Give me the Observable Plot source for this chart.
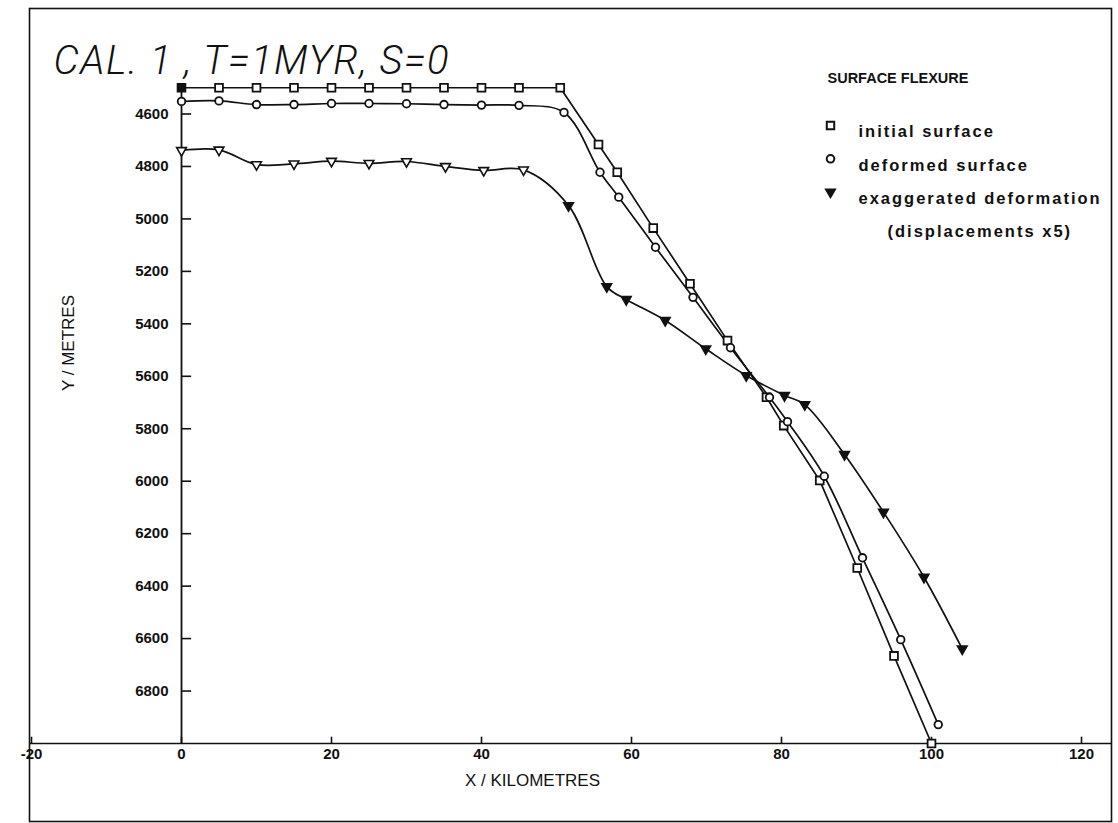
<!DOCTYPE html>
<html><head><meta charset="utf-8">
<script src="https://cdn.jsdelivr.net/npm/d3@7"></script>
<script src="https://cdn.jsdelivr.net/npm/@observablehq/plot@0.6"></script>
<style>body{margin:0;background:#fff}svg{display:block}</style>
</head><body><div id="chart"></div>
<script>
// ---- texts ----
const titleText = "CAL. 1 , T=1MYR, S=0";
const xLabel = "X / KILOMETRES";
const yLabel = "Y / METRES";
const legendTitle = "SURFACE FLEXURE";
const seriesNames = ["initial surface", "deformed surface", "exaggerated deformation"];
const legendNote = "(displacements x5)";

// ---- ticks ----
const xTicks = [-20, 0, 20, 40, 60, 80, 100, 120];
const yTicks = [4600, 4800, 5000, 5200, 5400, 5600, 5800, 6000, 6200, 6400, 6600, 6800];

// ---- series (km, metres) ----
const initialX = [0, 5, 10, 15, 20, 25, 30, 35, 40, 45, 50.5, 55.6, 58.1, 62.9, 67.8, 72.8, 78.0, 80.3, 85.1, 90.1, 95.0, 100];
const initialY = [4500, 4500, 4500, 4500, 4500, 4500, 4500, 4500, 4500, 4500, 4500, 4716, 4822, 5035, 5247, 5464, 5680, 5788, 5997, 6331, 6666, 7000];

const deformedX = [0, 5, 10, 15, 20, 25, 30, 35, 40, 45, 51.0, 55.8, 58.3, 63.2, 68.2, 73.2, 78.4, 80.8, 85.7, 90.8, 95.9, 100.9];
const deformedY = [4552, 4550, 4564, 4564, 4560, 4560, 4561, 4564, 4566, 4567, 4594, 4822, 4917, 5108, 5299, 5491, 5680, 5773, 5981, 6292, 6604, 6928];

const exaggeratedX = [0, 5, 10, 15, 20, 25, 30, 35.2, 40.3, 45.6, 51.6, 56.7, 59.3, 64.5, 69.9, 75.3, 80.4, 83.1, 88.4, 93.6, 99.0, 104.1];
const exaggeratedY = [4739, 4737, 4793, 4790, 4780, 4788, 4781, 4800, 4815, 4813, 4949, 5258, 5307, 5387, 5495, 5597, 5673, 5708, 5898, 6118, 6366, 6639];

const toRows = (xs, ys) => xs.map((x, i) => ({x, y: ys[i], i}));
const initial = toRows(initialX, initialY);
const deformed = toRows(deformedX, deformedY);
const exaggerated = toRows(exaggeratedX, exaggeratedY);

const INK = "#111";
const numFont = "'Liberation Sans', Arial, sans-serif";
const xDomain = [xTicks[0], xTicks[xTicks.length - 1]];
const yDomain = [4600, 7000];

const chart = Plot.plot({
  width: 1118,
  height: 823,
  marginLeft: 29, marginRight: 7, marginTop: 8, marginBottom: 2,
  x: {domain: xDomain, range: [31, 1081], axis: null},
  y: {domain: yDomain, range: [113.5, 743], axis: null},
  style: {background: "#fff"},
  marks: [
    Plot.frame({stroke: INK, strokeWidth: 1.6}),
    // axes
    Plot.ruleY([yDomain[1]], {stroke: INK, strokeWidth: 1.6}),
    Plot.ruleX([0], {y1: 4500, y2: yDomain[1], stroke: INK, strokeWidth: 1.8}),
    Plot.ruleY(yTicks, {x1: 0, x2: 1.35, stroke: INK, strokeWidth: 1.6}),
    Plot.ruleX(xTicks, {y1: yDomain[1], y2: yDomain[1] - 24, stroke: INK, strokeWidth: 1.6}),
    Plot.text(yTicks, {x: 0, y: d => d, dx: -13, text: d => String(d), textAnchor: "end",
      fontSize: 15, fontWeight: "bold", fontFamily: numFont, fill: INK}),
    Plot.text(xTicks, {x: d => d, y: yDomain[1], dy: 11, text: d => String(d),
      fontSize: 15, fontWeight: "bold", fontFamily: numFont, fill: INK}),
    Plot.text([xLabel], {frameAnchor: "bottom", dx: -38, dy: -36, fontSize: 17,
      fontFamily: numFont, fill: INK}),
    Plot.text([yLabel], {frameAnchor: "left", dx: 39, dy: -24, rotate: -90, fontSize: 17,
      fontFamily: numFont, fill: INK}),
    Plot.text([titleText], {frameAnchor: "top-left", dx: 24, dy: 37, textAnchor: "start",
      fontSize: 40, fontStyle: "italic", fontWeight: 300, fontFamily: "Roboto, 'DejaVu Sans', sans-serif", fill: INK}),
    // series lines
    Plot.line(initial, {x: "x", y: "y", stroke: INK, strokeWidth: 1.7}),
    Plot.line(deformed, {x: "x", y: "y", stroke: INK, strokeWidth: 1.7, curve: "catmull-rom"}),
    Plot.line(exaggerated, {x: "x", y: "y", stroke: INK, strokeWidth: 1.7, curve: "catmull-rom"}),
    // series markers
    Plot.dot(initial, {x: "x", y: "y", symbol: "square", r: 4.4, stroke: INK, strokeWidth: 1.8,
      fill: d => d.i === 0 ? INK : "#fff"}),
    Plot.dot(deformed, {x: "x", y: "y", symbol: "circle", r: 3.8, stroke: INK, strokeWidth: 1.8, fill: "#fff"}),
    Plot.dot(exaggerated, {x: "x", y: "y", symbol: "triangle", rotate: 180, r: 3.6, stroke: INK, strokeWidth: 1.6,
      fill: d => d.i < 10 ? "#fff" : INK}),
    // legend
    Plot.text([legendTitle], {frameAnchor: "top-left", dx: 798, dy: 64, textAnchor: "start",
      fontSize: 14.5, fontWeight: "bold", fontFamily: numFont, fill: INK}),
    Plot.dot([0], {frameAnchor: "top-left", dx: 801, dy: 117, symbol: "square", r: 4.2, stroke: INK, strokeWidth: 2, fill: "#fff"}),
    Plot.dot([0], {frameAnchor: "top-left", dx: 801, dy: 150.3, symbol: "circle", r: 3.8, stroke: INK, strokeWidth: 2, fill: "#fff"}),
    Plot.dot([0], {frameAnchor: "top-left", dx: 801, dy: 183.5, symbol: "triangle", rotate: 180, r: 3.6, stroke: INK, strokeWidth: 1.5, fill: INK}),
    ...seriesNames.map((name, k) => Plot.text([name], {frameAnchor: "top-left", dx: 829, dy: 117 + 33.3 * k,
      textAnchor: "start", fontSize: 16.5, fontWeight: "bold", fontFamily: numFont, fill: INK})),
    Plot.text([legendNote], {frameAnchor: "top-left", dx: 858, dy: 217, textAnchor: "start",
      fontSize: 16.5, fontWeight: "bold", fontFamily: numFont, fill: INK})
  ]
});

// widen the plotter-style lettering
d3.select(chart).selectAll("text").each(function() {
  const t = this.textContent;
  if (seriesNames.includes(t) || t === legendNote) this.setAttribute("letter-spacing", "2");
  if (t === titleText) this.setAttribute("letter-spacing", "1.5");
});
document.getElementById("chart").appendChild(chart);
</script>
</body></html>
